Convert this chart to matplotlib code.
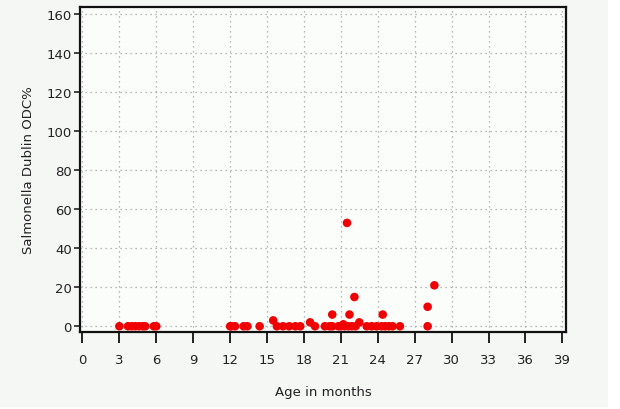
import matplotlib.pyplot as plt
from matplotlib.patches import Rectangle

# age (months) and ODC% for each animal
age = [3.0, 3.7, 4.0, 4.3, 4.6, 4.9, 5.1, 5.8, 6.0,
       12.0, 12.1, 12.4, 13.1, 13.4, 14.4, 15.5, 15.8, 16.3, 16.8, 17.3, 17.7,
       18.5, 18.9, 19.7, 20.1, 20.3, 20.3, 20.8, 21.0, 21.2, 21.3, 21.5, 21.6,
       21.7, 21.9, 22.1, 22.2, 22.5, 23.1, 23.5, 23.9, 24.3, 24.4, 24.6, 24.9,
       25.2, 25.8, 28.05, 28.05, 28.6]
odc = [0, 0, 0, 0, 0, 0, 0, 0, 0,
       0, 0, 0, 0, 0, 0, 3, 0, 0, 0, 0, 0,
       2, 0, 0, 0, 0, 6, 0, 0, 1, 0, 53, 0,
       6, 0, 15, 0, 2, 0, 0, 0, 0, 6, 0, 0,
       0, 0, 0, 10, 21]

xticks = list(range(0, 40, 3))
yticks = list(range(0, 161, 20))

fig = plt.figure(figsize=(6.2, 4.1), dpi=100, facecolor='#f4f7f4')
fig.patches.append(Rectangle((0.98, 0), 0.02, 1, transform=fig.transFigure,
                             facecolor='white', edgecolor='none', zorder=-1))
fig.patches.append(Rectangle((0, 0), 1, 0.005, transform=fig.transFigure,
                             facecolor='white', edgecolor='none', zorder=-1))

ax = fig.add_axes([0.129, 0.188, 0.784, 0.792])
ax.set_facecolor('#fbfdfb')
ax.scatter(age, odc, s=38, color='#f00000', edgecolors='none', zorder=3)

ax.set_xlim(-0.2, 39.3)
ax.set_ylim(-2.9, 163.6)
ax.set_xticks(xticks)
ax.set_yticks(yticks)
ax.grid(True, linestyle=(0, (1, 3)), color='#a0a0a0', linewidth=0.9)
ax.set_axisbelow(True)

for s in ax.spines.values():
    s.set_linewidth(1.6)
    s.set_color('#111111')

ax.tick_params(axis='x', direction='out', length=8, width=1.4, pad=7,
               labelsize=9.5, colors='#222222')
ax.tick_params(axis='y', direction='out', length=4, width=1.2, pad=2,
               labelsize=9.5, colors='#222222')

ax.set_xlabel('Age in months', fontsize=9.5, color='#222222', labelpad=14)
ax.set_ylabel('Salmonella Dublin ODC%', fontsize=9.5, color='#222222',
              labelpad=8)

fig.savefig('out.png', dpi=100, facecolor=fig.get_facecolor())
